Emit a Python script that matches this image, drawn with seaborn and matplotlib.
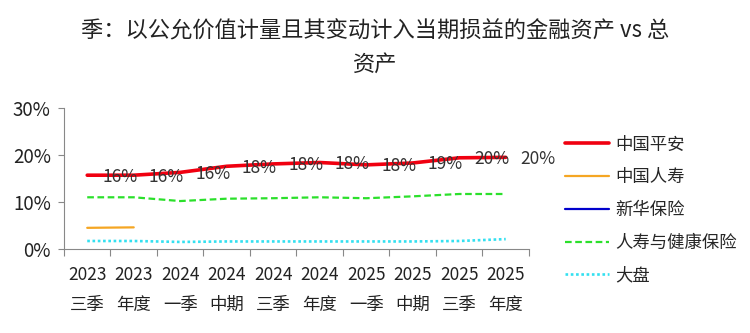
import matplotlib
matplotlib.use("Agg")
import matplotlib.pyplot as plt
from matplotlib.lines import Line2D
import seaborn as sns
import numpy as np
import pandas as pd

categories = ["2023\n三季", "2023\n年度", "2024\n一季", "2024\n中期", "2024\n三季",
              "2024\n年度", "2025\n一季", "2025\n中期", "2025\n三季", "2025\n年度"]
pingan = [15.7, 15.7, 16.3, 17.6, 18.1, 18.4, 17.9, 18.3, 19.4, 19.5]
renshou = [4.5, 4.6, np.nan, np.nan, np.nan, np.nan, np.nan, np.nan, np.nan, np.nan]
xinhua = [np.nan] * 10
health = [11.0, 11.0, 10.2, 10.7, 10.8, 11.0, 10.8, 11.2, 11.7, 11.7]
dapan = [1.7, 1.7, 1.5, 1.6, 1.6, 1.6, 1.6, 1.6, 1.7, 2.1]
pingan_labels = ["16%", "16%", "16%", "18%", "18%", "18%", "18%", "19%", "20%", "20%"]

sns.set_theme(style="white")
plt.rcParams['font.family'] = ['Noto Sans CJK SC', 'DejaVu Sans']

fig = plt.figure(figsize=(7.5, 3.33), dpi=100)
ax = fig.add_axes([0.0853, 0.2523, 0.62, 0.4234])

x = np.arange(len(categories))
series = [
    ("中国平安", pingan, "#F00010", "-", 2.6),
    ("中国人寿", renshou, "#F5A623", "-", 1.6),
    ("新华保险", xinhua, "#0000CC", "-", 1.6),
    ("人寿与健康保险", health, "#2BE02B", (0, (3, 1.6)), 1.6),
    ("大盘", dapan, "#33E0F0", (0, (1, 1)), 1.9),
]
handles = []
for name, vals, color, ls, lw in series:
    df = pd.DataFrame({"x": x, "y": vals}).dropna()
    if len(df):
        sns.lineplot(data=df, x="x", y="y", ax=ax, color=color, linewidth=lw,
                     linestyle=ls, legend=False)
    handles.append(Line2D([], [], color=color, linewidth=lw, linestyle=ls, label=name))

for xi, yi, lab in zip(x, pingan, pingan_labels):
    ax.annotate(lab, (xi + 0.7, yi), xytext=(0, -1), textcoords="offset points",
                ha="center", va="center", fontsize=12.5, color="#333333",
                annotation_clip=False)

ax.set_xlim(-0.5, 9.5)
ax.set_ylim(0, 30)
ax.set_yticks([0, 10, 20, 30])
ax.set_yticklabels(["0%", "10%", "20%", "30%"])
ax.set_xticks(x)
ax.set_xticklabels(categories, linespacing=1.85)
ax.set_xticks(np.arange(-0.5, 10, 1), minor=True)
ax.tick_params(axis="x", which="major", length=0, pad=12.5, labelsize=12.5, colors="#222222")
ax.tick_params(axis="x", which="minor", length=5, width=0.8, color="#888888", direction="out", bottom=True)
ax.tick_params(axis="y", which="major", length=4.5, width=0.8, color="#888888", labelsize=13.5,
               labelcolor="#222222", left=True, pad=5)
ax.set_xlabel("")
ax.set_ylabel("")
for s in ["top", "right"]:
    ax.spines[s].set_visible(False)
for s in ["left", "bottom"]:
    ax.spines[s].set_color("#888888")
    ax.spines[s].set_linewidth(0.8)

fig.text(0.5, 0.94, "季：以公允价值计量且其变动计入当期损益的金融资产 vs 总\n资产",
         ha="center", va="top", fontsize=16, color="#222222", linespacing=1.55)

fig.legend(handles=handles, loc="upper left", bbox_to_anchor=(0.733, 0.64),
           frameon=False, fontsize=12.5, handlelength=2.5, labelspacing=0.85,
           handletextpad=0.35)

fig.savefig("out.png", dpi=100)
